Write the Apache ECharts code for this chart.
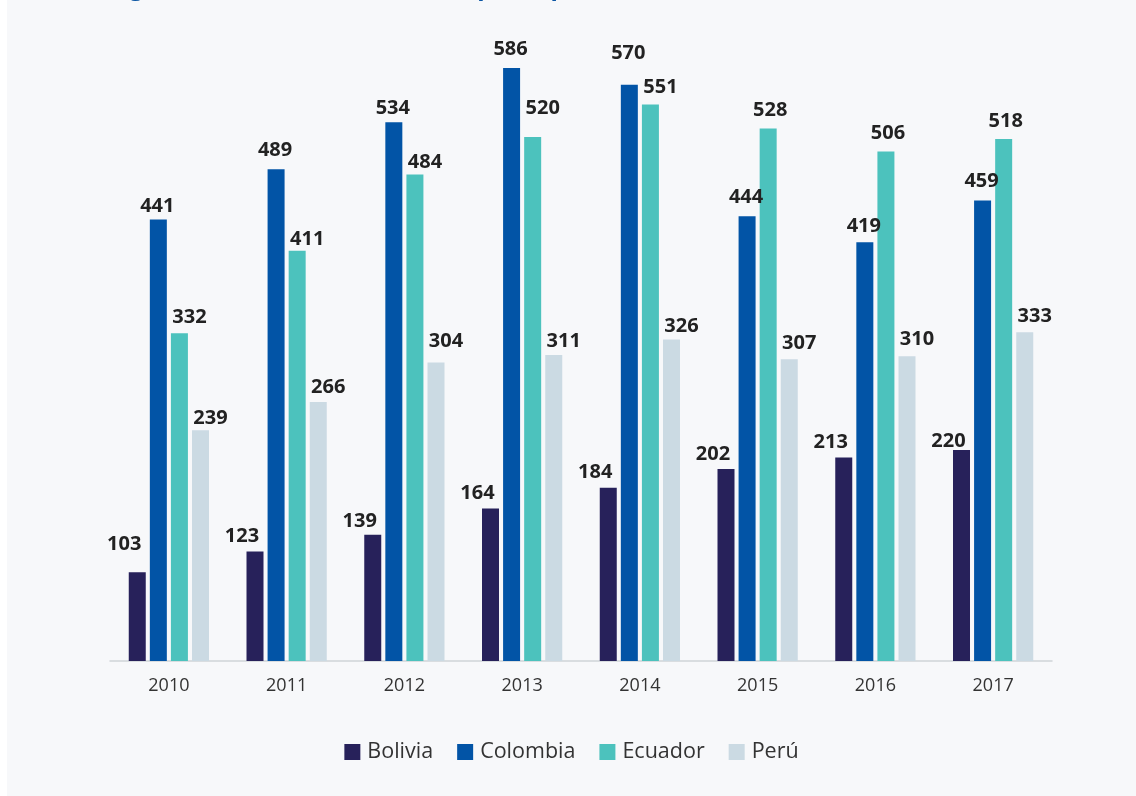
<!DOCTYPE html>
<html>
<head>
<meta charset="utf-8">
<script src="https://cdn.jsdelivr.net/npm/echarts@6/dist/echarts.min.js"></script>
<style>
html,body{margin:0;padding:0;background:#ffffff;}
#chart{position:absolute;left:7px;top:0;width:1129px;height:796px;background:#f7f8fa;}
</style>
</head>
<body>
<div id="chart"></div>
<script>
var years = ['2010','2011','2012','2013','2014','2015','2016','2017'];
var seriesNames = ['Bolivia','Colombia','Ecuador','Perú'];
var bolivia  = [103,123,139,164,184,202,213,220];
var colombia = [441,489,534,586,570,444,419,459];
var ecuador  = [332,411,484,520,551,528,506,518];
var peru     = [239,266,304,311,326,307,310,333];
var titleText = 'Figura 11. Gasto en salud total per cápita (US$)';

var colors = ['#27215a','#0254a6','#4cc2bd','#cbdae3'];
var allData = [bolivia, colombia, ecuador, peru];

// label placement style (extra vertical nudge in px, by series then year index)
var labelNudgeY = [
  [-13, 0, 2, 0, 0, 0, 0, 6],
  [6, 0, 5, 0, -12, 0, 3, 0],
  [3, 8, 7, -10, 2, 1, 1, 1],
  [2, -1, -7, 0, 1, -2, -3, -2]
];

function labelOffset(si, i) {
  var base;
  if (si === 0) base = [-13, 0];
  else if (si === 1) base = [-1, -4];
  else if (si === 2) base = ecuador[i] < colombia[i] ? [10, -4] : [2, -4];
  else base = [10, 1];
  return [base[0], base[1] + labelNudgeY[si][i]];
}

var chart = echarts.init(document.getElementById('chart'), null, {renderer:'canvas'});
var series = allData.map(function (arr, si) {
  return {
    name: seriesNames[si],
    type: 'bar',
    barWidth: 17,
    barGap: '24%',
    itemStyle: {color: colors[si]},
    data: arr.map(function (v, i) {
      return {value: v, label: {offset: labelOffset(si, i)}};
    }),
    label: {
      show: true,
      position: 'top',
      distance: 5,
      fontFamily: 'Open Sans',
      fontWeight: 'bold',
      fontSize: 20,
      color: '#222222'
    }
  };
});

chart.setOption({
  backgroundColor: '#f7f8fa',
  animation: false,
  title: {
    text: titleText,
    left: 102,
    top: -24,
    padding: 0,
    textStyle: {fontFamily: 'Open Sans', fontWeight: 'bold', fontSize: 24, color: '#0a55a3'}
  },
  legend: {
    data: seriesNames,
    bottom: 28,
    left: 'center',
    itemWidth: 16,
    itemHeight: 16,
    itemGap: 24,
    icon: 'rect',
    textStyle: {fontFamily: 'Open Sans', fontSize: 21.5, color: '#333333', padding: [0,0,0,2]}
  },
  grid: {left: 103, right: 84, top: 68, bottom: 135, containLabel: false},
  xAxis: {
    type: 'category',
    data: years,
    axisLine: {lineStyle: {color: '#cfd3d8', width: 1.5}},
    axisTick: {show: false},
    axisLabel: {fontFamily: 'Open Sans', fontSize: 18, color: '#333333', margin: 16}
  },
  yAxis: {
    type: 'value',
    min: 18,
    max: 586,
    show: false,
    splitLine: {show: false}
  },
  series: series
});
</script>
</body>
</html>
